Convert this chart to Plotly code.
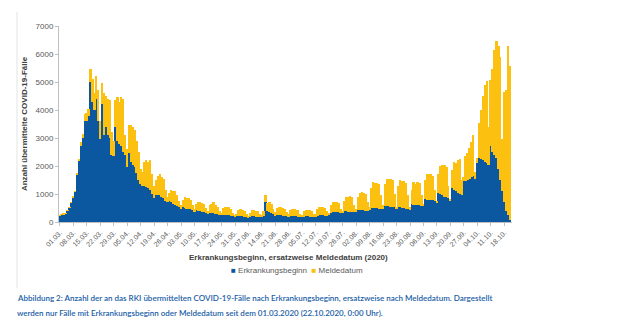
import plotly.graph_objects as go
import datetime as dt

# Daily totals (Erkrankungsbeginn + Meldedatum) and Erkrankungsbeginn part, 01.03.2020 - 21.10.2020
total = [
    250, 270, 290, 310, 420, 520, 700,
    900, 1100, 1750, 2250, 2850, 3150, 3850,
    3900, 4050, 5480, 5100, 4600, 5200, 4700,
    3600, 4950, 4600, 4500, 4400, 4350, 3200,
    2900, 4350, 4450, 4300, 4450, 4400, 3100,
    2600, 3450, 3450, 3400, 3300, 2900, 2500,
    1900, 1800, 2150, 2200, 2150, 2200, 1700,
    1300, 1500, 1650, 1700, 1600, 1550, 1150,
    900, 1050, 1150, 1100, 1100, 950, 750,
    600, 800, 900, 850, 850, 800, 600,
    450, 650, 700, 700, 680, 650, 500,
    400, 600, 650, 700, 600, 550, 400,
    330, 500, 550, 540, 520, 450, 330,
    250, 300, 420, 450, 430, 380, 300,
    220, 330, 420, 430, 400, 380, 280,
    250, 380, 950, 680, 700, 650, 450,
    350, 500, 520, 530, 500, 480, 350,
    280, 420, 450, 460, 440, 420, 300,
    250, 380, 420, 430, 420, 400, 300,
    280, 450, 520, 540, 530, 500, 380,
    330, 600, 700, 720, 700, 680, 480,
    400, 750, 880, 900, 920, 880, 600,
    450, 900, 1050, 1060, 1040, 1000, 700,
    550, 1200, 1430, 1400, 1380, 1350, 950,
    600, 1350, 1550, 1520, 1540, 1500, 1000,
    550, 1300, 1500, 1480, 1450, 1400, 950,
    520, 1150, 1430, 1350, 1420, 1380, 950,
    650, 1500, 1720, 1700, 1720, 1650, 1150,
    750, 1700, 2000, 2050, 2030, 1950, 1300,
    800, 1850, 2150, 2100, 2200, 2250, 1500,
    1600, 2350, 2450, 2650, 2850, 3100, 1800,
    2300, 3550, 4000, 4500, 4900, 5050, 3400,
    5080, 5450, 6150, 6450, 6300, 5900, 2950,
    4650, 4700, 6270, 5560,
]
erkrankungsbeginn = [
    230, 255, 275, 295, 400, 500, 680,
    880, 1080, 1700, 2200, 2700, 3000, 3600,
    3600, 3800, 5000, 4300, 4000, 4400, 3600,
    2950, 4200, 3100, 3400, 3100, 3000, 2400,
    2350, 3400, 2900, 2800, 2700, 2500, 2400,
    1950, 2450, 2150, 2050, 1950, 1750, 1500,
    1350, 1300, 1300, 1250, 1200, 1150, 1000,
    850, 950, 980, 950, 900, 850, 750,
    700, 750, 700, 650, 620, 580, 520,
    450, 520, 500, 480, 470, 450, 420,
    380, 420, 400, 390, 370, 350, 330,
    300, 330, 320, 310, 300, 280, 260,
    250, 260, 260, 250, 240, 230, 220,
    200, 210, 210, 200, 200, 190, 180,
    170, 190, 200, 200, 190, 180, 170,
    200, 230, 720, 380, 350, 330, 280,
    230, 250, 250, 240, 230, 220, 200,
    190, 210, 210, 200, 200, 190, 180,
    170, 190, 200, 200, 190, 190, 180,
    190, 230, 240, 240, 240, 230, 220,
    250, 330, 350, 360, 350, 340, 320,
    320, 380, 390, 370, 370, 360, 340,
    360, 420, 430, 420, 420, 410, 390,
    430, 500, 510, 500, 490, 480, 460,
    470, 580, 570, 560, 550, 540, 520,
    480, 540, 520, 500, 490, 470, 460,
    450, 640, 620, 620, 610, 600, 580,
    580, 820, 800, 790, 780, 770, 740,
    700, 1050, 1000, 950, 900, 880, 850,
    780, 1200, 1150, 1100, 1050, 1000, 950,
    1450, 1450, 1500, 1550, 1600, 1650, 1550,
    2100, 2300, 2250, 2200, 2150, 2100, 2050,
    2700, 2500, 2400, 2300, 1900, 1500, 1100,
    700, 400, 250, 80,
]
meldedatum = [t - b for t, b in zip(total, erkrankungsbeginn)]

start = dt.date(2020, 3, 1)
days = list(range(len(total)))
tick_days = list(range(0, len(total), 7))
tick_labels = [(start + dt.timedelta(days=d)).strftime("%d.%m.") for d in tick_days]

BLUE = "#0b58a0"
YELLOW = "#fcc010"
GRAY = "#595959"
FONT = "Liberation Sans"

# plot area in pixels
L, R, T, B = 59, 512, 26, 222
W, H = R - L, B - T


def px(xp):
    return (xp - L) / W


def py(yp):
    return (B - yp) / H


fig = go.Figure()
fig.add_trace(go.Bar(x=days, y=erkrankungsbeginn, name="Erkrankungsbeginn",
                     marker=dict(color=BLUE, line=dict(width=0))))
fig.add_trace(go.Bar(x=days, y=meldedatum, name="Meldedatum",
                     marker=dict(color=YELLOW, line=dict(width=0))))

fig.update_layout(
    barmode="stack", bargap=0,
    width=640, height=331,
    margin=dict(l=L, r=640 - R, t=T, b=331 - B),
    paper_bgcolor="white", plot_bgcolor="white",
    font=dict(family=FONT, color=GRAY, size=8),
    showlegend=False,
)
fig.update_xaxes(
    range=[-0.5, 235], tickmode="array", tickvals=tick_days, ticktext=tick_labels,
    tickangle=-45, tickfont=dict(size=7, color=GRAY), ticks="outside", ticklen=3,
    tickcolor="#bfbfbf", showline=True, linecolor="#bfbfbf", linewidth=1,
    showgrid=False, zeroline=False,
)
fig.update_yaxes(
    range=[0, 7000], tickmode="array", tickvals=[0, 1000, 2000, 3000, 4000, 5000, 6000, 7000],
    tickfont=dict(size=8, color=GRAY),
    ticks="outside", ticklen=3, tickcolor="#bfbfbf", showline=True,
    linecolor="#bfbfbf", linewidth=1, showgrid=False, zeroline=False,
    title=dict(text="<b>Anzahl übermittelte COVID-19-Fälle</b>", standoff=6,
               font=dict(size=8, color="#404040", family=FONT)),
    automargin=False,
)

fig.add_annotation(text="<b>Erkrankungsbeginn, ersatzweise Meldedatum (2020)</b>", xref="paper",
                   yref="paper", x=px(288), y=py(257), xanchor="center", yanchor="middle",
                   showarrow=False, font=dict(size=8, color="#404040", family=FONT))

# legend
fig.add_annotation(
    text=(f"<span style='color:{BLUE}'>■</span> Erkrankungsbeginn  "
          f"<span style='color:{YELLOW}'>■</span> Meldedatum"),
    xref="paper", yref="paper", x=px(297), y=py(270), xanchor="center", yanchor="middle",
    showarrow=False, font=dict(size=8, color=GRAY, family=FONT))

CAP = "#2160a6"
fig.add_annotation(text="Abbildung 2: Anzahl der an das RKI übermittelten COVID-19-Fälle nach Erkrankungsbeginn, ersatzweise nach Meldedatum. Dargestellt",
                   xref="paper", yref="paper", x=px(15), y=py(298), xanchor="left", yanchor="middle",
                   showarrow=False, font=dict(size=8, color=CAP, family="Lato", weight=600))
fig.add_annotation(text="werden nur Fälle mit Erkrankungsbeginn oder Meldedatum seit dem 01.03.2020 (22.10.2020, 0:00 Uhr).",
                   xref="paper", yref="paper", x=px(15), y=py(313), xanchor="left", yanchor="middle",
                   showarrow=False, font=dict(size=8, color=CAP, family="Lato", weight=600))

fig.add_shape(type="line", xref="paper", yref="paper",
              x0=px(17), x1=px(17), y0=py(12), y1=py(288),
              line=dict(color="#e3e3e3", width=1))

fig.write_html("out.html")
